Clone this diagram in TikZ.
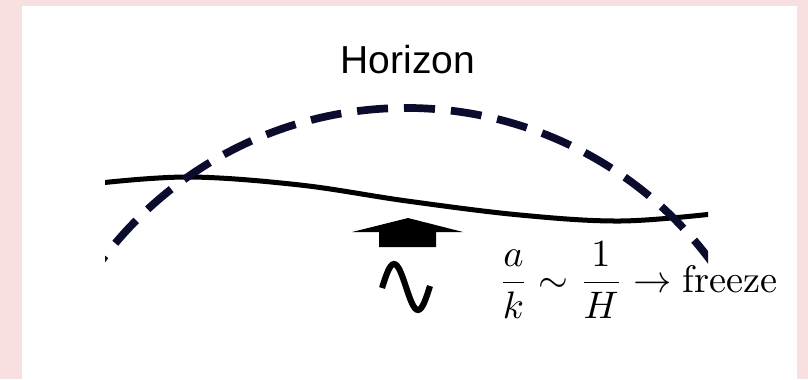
\documentclass[tikz,border=0pt]{standalone}
\usepackage{fontspec}
\newfontfamily\horizonfont{Liberation Sans}
\definecolor{hzpink}{HTML}{F9E0E0}
\definecolor{hznavy}{HTML}{0B0B2E}
\tikzset{
  hz label/.style={
    font=\horizonfont\fontsize{11.14}{13}\selectfont,
    inner sep=0pt,
    anchor=base
  },
  hz math/.style={
    font=\fontsize{10.95}{13}\selectfont,
    inner sep=0pt,
    anchor=base west
  },
  hz horizon/.style={
    draw=hznavy,
    line width=2.2pt,
    dash pattern=on 8.86pt off 4.57pt,
    dash phase=5.7pt
  },
  hz mode/.style={draw=black, line width=1.43pt},
  hz wave/.style={draw=black, line width=1.75pt},
  hz block arrow/.style={fill=black}
}

\begin{document}
\begin{tikzpicture}[x=0.2857pt,y=-0.2857pt]
\fill[hzpink] (0,0) rectangle (808,379);
\fill[white] (22,6) rectangle (797,379);

\node[hz label] (horizon) at (408,73) {Horizon};

\begin{scope}
  \clip (105,0) rectangle (708,379);
  \draw[hz mode] plot[smooth, tension=0.6] coordinates
    {(100,183) (190,177) (300,185) (407,201) (520,215) (620,221) (712,214)};
  % horizon arc, centre (406,488)
  \draw[hz horizon] (98.6,264.6) arc[start angle=216, end angle=324, radius=380];
\end{scope}

\fill[hz block arrow] (352,232) -- (408,218) -- (463,232) -- (436,232)
  -- (436,247) -- (379,247) -- (379,232) -- cycle;

\draw[hz wave] (382,288) sin (394,264) cos (406,287) sin (418,310) cos (430,286);

\node[hz math] (freeze) at (498,292)
  {$\displaystyle\frac{a}{k}\sim\frac{1}{H}\to\mathrm{freeze}$};
\end{tikzpicture}
\end{document}
